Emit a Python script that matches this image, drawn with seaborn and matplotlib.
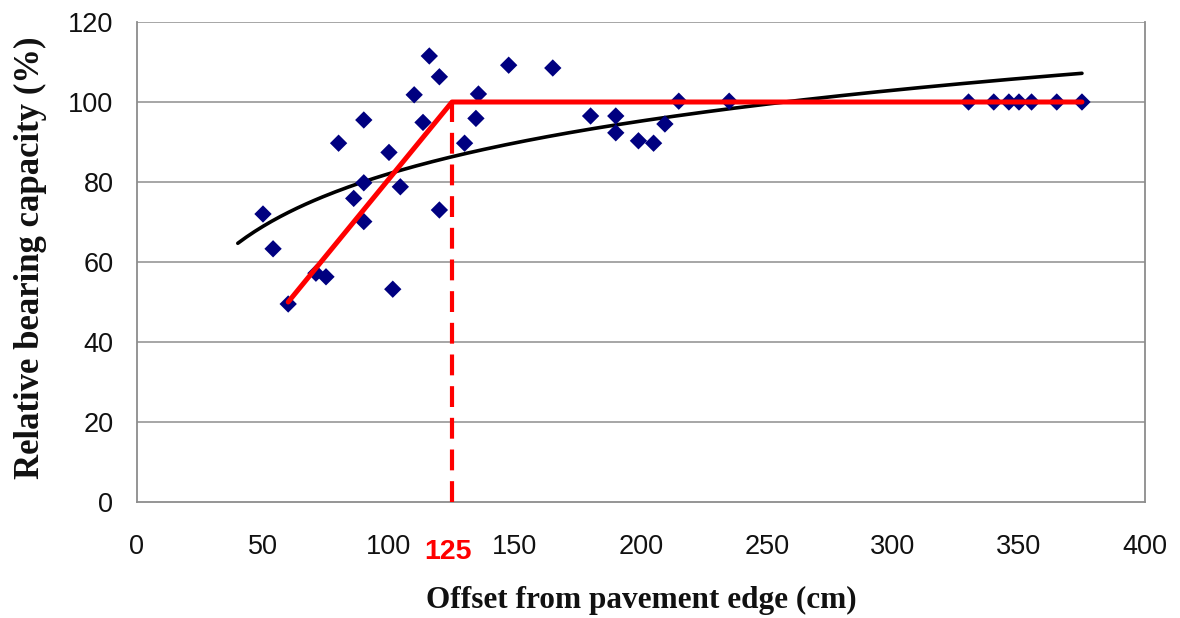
import numpy as np
import pandas as pd
import matplotlib
matplotlib.use("Agg")
import matplotlib.pyplot as plt
import seaborn as sns

# ---- data ----
offset_cm = [50, 54, 60, 71, 75, 80, 86, 90, 90, 90, 100, 101.5, 104.5, 110, 113.5,
             116, 120, 120, 130, 134.5, 135.5, 147.5, 165, 180, 190, 190, 199, 205,
             209.5, 215, 235, 330, 340, 346, 350, 355, 365, 375]
capacity_pct = [72, 63.3, 49.5, 57.2, 56.3, 89.7, 75.9, 95.5, 79.8, 70.1, 87.4, 53.2, 78.8,
                101.8, 94.9, 111.5, 106.3, 73, 89.7, 95.9, 102, 109.2, 108.5, 96.5, 96.5,
                92.3, 90.3, 89.7, 94.5, 100.2, 100.2, 100, 100, 100, 100, 100, 100, 100]

bilinear_x = [60, 125, 375]
bilinear_y = [50, 100, 100]
breakpoint_x = 125

x_ticks = [0, 50, 100, 150, 200, 250, 300, 350, 400]
y_ticks = [0, 20, 40, 60, 80, 100, 120]

# logarithmic trendline (Excel-style), fitted to the points
coef = np.polyfit(np.log(offset_cm), capacity_pct, 1)
trend_x = np.linspace(40, 375, 200)
trend_y = coef[0] * np.log(trend_x) + coef[1]

df = pd.DataFrame({"x": offset_cm, "y": capacity_pct})
trend_df = pd.DataFrame({"x": trend_x, "y": trend_y})
bil_df = pd.DataFrame({"x": bilinear_x, "y": bilinear_y})

sns.set_style("white")
fig = plt.figure(figsize=(11.8, 6.18), dpi=100)
ax = fig.add_axes([0.1161, 0.1877, 0.9703 - 0.1161, 0.9644 - 0.1877])

for yv in y_ticks[1:]:
    ax.axhline(yv, color="#a6a6a6", lw=1.4, zorder=0)

sns.lineplot(data=trend_df, x="x", y="y", ax=ax, color="black", lw=2.6,
             sort=False, zorder=3)
sns.scatterplot(data=df, x="x", y="y", ax=ax, marker="D", s=78, color="#000080",
                edgecolor="none", zorder=4)
sns.lineplot(data=bil_df, x="x", y="y", ax=ax, color="#ff0000", lw=3.6,
             sort=False, zorder=5)
ax.plot([breakpoint_x, breakpoint_x], [0, bilinear_y[1]], color="#ff0000", lw=3.0,
        linestyle=(0, (5, 2.6)), zorder=5)

ax.set_xlim(0, 400)
ax.set_ylim(0, 120)
ax.set_xticks(x_ticks)
ax.set_yticks(y_ticks)
ax.tick_params(axis="both", labelsize=19.5, direction="out", length=7, width=1.2,
               color="#808080", labelcolor="#111111")
ax.tick_params(axis="x", pad=16)
ax.tick_params(axis="y", pad=10)
for lab in ax.get_xticklabels() + ax.get_yticklabels():
    lab.set_fontfamily("Liberation Sans")

for side in ["left", "bottom", "right", "top"]:
    ax.spines[side].set_color("#8c8c8c")
    ax.spines[side].set_linewidth(1.3)
ax.spines["top"].set_visible(False)

ax.text(breakpoint_x - 1.5, -12.5, str(breakpoint_x), color="#ff0000", fontsize=20.5,
        fontweight="bold", ha="center", va="center", family="Liberation Sans")

ax.set_xlabel("Offset from pavement edge (cm)", fontsize=22.5, fontweight="bold",
              family="Liberation Serif", color="#111111")
ax.xaxis.set_label_coords(0.5, -0.205)
ax.xaxis.label.set_va("center")
ax.set_ylabel("Relative bearing capacity (%)", fontsize=25, fontweight="bold",
              family="Liberation Serif", color="#111111")
ax.yaxis.set_label_coords(-0.106, 0.508)
ax.yaxis.label.set_va("center")

fig.savefig("out.png", dpi=100)
